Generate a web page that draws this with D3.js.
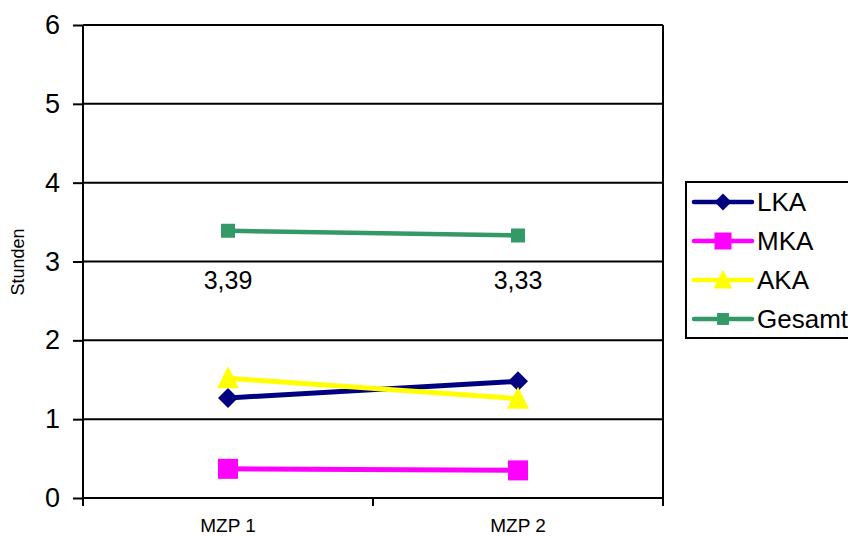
<!DOCTYPE html>
<html><head><meta charset="utf-8">
<script src="https://cdn.jsdelivr.net/npm/d3@7"></script>
<style>body{margin:0;background:#fff;}svg{display:block;font-family:Arial,"Liberation Sans",sans-serif;}</style>
</head><body>
<svg id="c" width="848" height="536"></svg>
<script>
const categories = ["MZP 1", "MZP 2"];
const seriesNames = ["LKA", "MKA", "AKA", "Gesamt"];
const lka = [1.27, 1.48];
const mka = [0.37, 0.35];
const aka = [1.52, 1.26];
const gesamt = [3.39, 3.33];
const gesamtLabels = ["3,39", "3,33"];
const yTicks = [0, 1, 2, 3, 4, 5, 6];

const seriesValues = [lka, mka, aka, gesamt];
const colors = ["#000080", "#FF00FF", "#FFFF00", "#339966"];
const markers = ["diamond", "square", "triangle", "smallsquare"];

const svg = d3.select("#c");
const L = 83, R = 663, T = 25, B = 498;
const x = d3.scaleBand().domain(categories).range([L, R]);
const y = d3.scaleLinear().domain([0, 6]).range([B, T]);
const cx = c => x(c) + x.bandwidth() / 2;

// gridlines
svg.append("g").selectAll("line").data(yTicks.slice(1)).join("line")
  .attr("x1", L).attr("x2", R).attr("y1", d => y(d)).attr("y2", d => y(d))
  .attr("stroke", "#000").attr("stroke-width", 2);
// right border
svg.append("line").attr("x1", R).attr("x2", R).attr("y1", T).attr("y2", B).attr("stroke", "#000").attr("stroke-width", 2);

// y axis
const ya = svg.append("g").attr("transform", `translate(${L},0)`)
  .call(d3.axisLeft(y).tickValues(yTicks).tickSize(10).tickPadding(13).tickFormat(d3.format("d")));
ya.select(".domain").attr("stroke-width", 2).attr("d", `M-0,${B}V${T}`);
ya.selectAll(".tick line").attr("stroke-width", 2);
ya.selectAll(".tick text").attr("font-size", 27).attr("fill", "#000").attr("font-family", "Arial, Liberation Sans, sans-serif");

// x axis
const xa = svg.append("g").attr("transform", `translate(0,${B})`)
  .call(d3.axisBottom(x).tickSize(0).tickPadding(0));
xa.select(".domain").attr("stroke-width", 2).attr("d", `M${L},0H${R}`);
xa.selectAll(".tick text").attr("font-size", 19).attr("fill", "#000").attr("dy", null).attr("y", 34)
  .attr("font-family", "Arial, Liberation Sans, sans-serif");
const xb = [L, (L + R) / 2, R];
svg.append("g").selectAll("line").data(xb).join("line")
  .attr("x1", d => d).attr("x2", d => d).attr("y1", B).attr("y2", B + 8)
  .attr("stroke", "#000").attr("stroke-width", 2);

// y title
svg.append("text").attr("transform", "translate(24,262) rotate(-90)")
  .attr("text-anchor", "middle").attr("font-size", 18).text("Stunden");

function drawMarker(g, type, color, s) {
  s = s || 1;
  if (type === "diamond") g.append("path").attr("d", `M0,${-10*s}L${10*s},0L0,${10*s}L${-10*s},0Z`).attr("fill", color);
  else if (type === "square") g.append("rect").attr("x", -10*s).attr("y", -10*s).attr("width", 20*s).attr("height", 20*s).attr("fill", color);
  else if (type === "triangle") g.append("path").attr("d", `M0,${-12*s}L${11*s},${10*s}L${-11*s},${10*s}Z`).attr("fill", color);
  else g.append("rect").attr("x", -7*s).attr("y", -7*s).attr("width", 14*s).attr("height", 14*s).attr("fill", color);
}

const line = d3.line().x((d, i) => cx(categories[i])).y(d => y(d));
seriesValues.forEach((vals, si) => {
  svg.append("path").datum(vals).attr("d", line).attr("fill", "none")
    .attr("stroke", colors[si]).attr("stroke-width", si === 3 ? 4.5 : 5);
  vals.forEach((v, i) => {
    const g = svg.append("g").attr("transform", `translate(${cx(categories[i])},${y(v)})`);
    drawMarker(g, markers[si], colors[si]);
  });
});

// data labels
svg.append("g").selectAll("text").data(gesamtLabels).join("text")
  .attr("x", (d, i) => cx(categories[i]))
  .attr("y", y(3) + 27).attr("text-anchor", "middle").attr("font-size", 25)
  .text(d => d);

// legend
const lg = svg.append("g");
lg.append("rect").attr("x", 686).attr("y", 182).attr("width", 200).attr("height", 156)
  .attr("fill", "#fff").attr("stroke", "#000").attr("stroke-width", 2);
seriesNames.forEach((n, si) => {
  const yy = 202 + si * 39;
  lg.append("line").attr("x1", 694).attr("x2", 752).attr("y1", yy).attr("y2", yy)
    .attr("stroke", colors[si]).attr("stroke-width", 4.5).attr("stroke-linecap", "round");
  const g = lg.append("g").attr("transform", `translate(723,${yy})`);
  drawMarker(g, markers[si], colors[si], 0.85);
  lg.append("text").attr("x", 757).attr("y", yy + 9).attr("font-size", 26).text(n);
});
</script>
</body></html>
